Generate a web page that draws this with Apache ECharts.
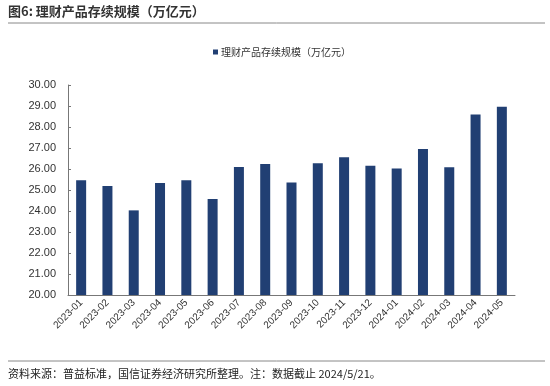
<!DOCTYPE html>
<html>
<head>
<meta charset="utf-8">
<script src="https://cdn.jsdelivr.net/npm/echarts@6/dist/echarts.min.js"></script>
<style>
html,body{margin:0;padding:0;background:#fff;}
#c{width:550px;height:386px;}
</style>
</head>
<body>
<div id="c"></div>
<script>
const categories = ["2023-01","2023-02","2023-03","2023-04","2023-05","2023-06","2023-07","2023-08","2023-09","2023-10","2023-11","2023-12","2024-01","2024-02","2024-03","2024-04","2024-05"];
const values = [25.46,25.19,24.03,25.33,25.46,24.57,26.10,26.24,25.36,26.27,26.56,26.16,26.02,26.95,26.08,28.59,28.97];
const seriesName = "理财产品存续规模（万亿元）";
const titleText = "图6: 理财产品存续规模（万亿元）";
const sourceText = "资料来源：普益标准，国信证券经济研究所整理。注：数据截止 2024/5/21。";

const FONT = "'Noto Sans CJK SC', sans-serif";
const chart = echarts.init(document.getElementById('c'), null, {renderer:'canvas'});
chart.setOption({
  animation:false,
  backgroundColor:'#fff',
  textStyle:{fontFamily:FONT},
  graphic:[
    {type:'text', left:8, top:5, style:{text:titleText, font:"bold 13px 'Noto Sans CJK SC'", fill:'#333'}},
    {type:'line', shape:{x1:8,y1:23,x2:545,y2:23}, style:{stroke:'#888', lineWidth:1}},
    {type:'line', shape:{x1:8,y1:361,x2:545,y2:361}, style:{stroke:'#888', lineWidth:1}},
    {type:'text', left:8, top:368, style:{text:sourceText, font:"11px 'Noto Sans CJK SC'", fill:'#222'}}
  ],
  legend:{
    top:42, left:208,
    itemWidth:5, itemHeight:5, itemGap:4,
    icon:'rect',
    textStyle:{fontSize:10, color:'#333', fontFamily:FONT, padding:[0,0,0,-2]},
    data:[seriesName]
  },
  grid:{left:68, right:35, top:85, bottom:91},
  xAxis:{
    type:'category',
    data:categories,
    axisLine:{lineStyle:{color:'#777', width:1}},
    axisTick:{inside:true, length:3, lineStyle:{color:'#777'}},
    axisLabel:{rotate:45, fontSize:10, color:'#333', fontFamily:'Liberation Sans', margin:6, interval:0}
  },
  yAxis:{
    type:'value', min:20, max:30, interval:1,
    axisLine:{show:true, lineStyle:{color:'#777', width:1}},
    axisTick:{show:true, inside:true, length:3, lineStyle:{color:'#777'}},
    splitLine:{show:false},
    axisLabel:{formatter:v=>v.toFixed(2), fontSize:11, color:'#333', fontFamily:'Liberation Sans', margin:12}
  },
  series:[{
    name:seriesName, type:'bar', data:values, barWidth:10,
    itemStyle:{color:'#213f73'}
  }]
});
</script>
</body>
</html>
